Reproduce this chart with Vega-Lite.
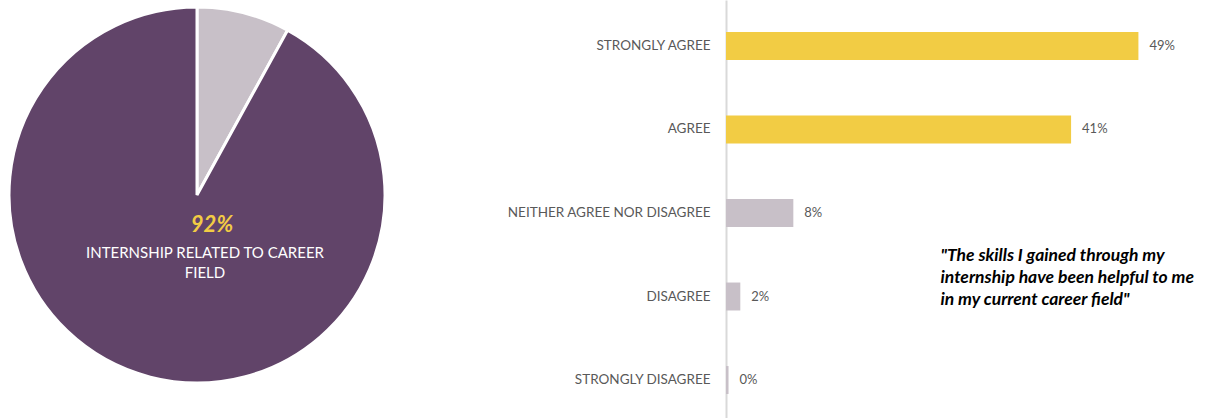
{
  "$schema": "https://vega.github.io/schema/vega-lite/v6.json",
  "autosize": "pad",
  "padding": 0,
  "background": "white",
  "spacing": 112,
  "config": {"view": {"stroke": null}, "font": "Lato"},
  "resolve": {"scale": {"color": "independent"}},
  "datasets": {
    "pie": [
      {"category": "Not related", "value": 0.08, "ord": 1},
      {"category": "Related", "value": 0.92, "ord": 2}
    ],
    "pieLabel": [{"pct": "92%", "label": ["INTERNSHIP RELATED TO CAREER", "FIELD"]}],
    "bars": [
      {"response": "STRONGLY AGREE", "share": 0.49, "group": "agree"},
      {"response": "AGREE", "share": 0.41, "group": "agree"},
      {"response": "NEITHER AGREE NOR DISAGREE", "share": 0.08, "group": "other"},
      {"response": "DISAGREE", "share": 0.017, "group": "other"},
      {"response": "STRONGLY DISAGREE", "share": 0.003, "group": "other"}
    ],
    "quote": [{"text": ["\"The skills I gained through my", "internship have been helpful to me", "in my current career field\""]}]
  },
  "hconcat": [
    {
      "width": 394,
      "height": 390,
      "layer": [
        {
          "data": {"name": "pie"},
          "mark": {"type": "arc", "outerRadius": 188, "stroke": "white", "strokeWidth": 3},
          "encoding": {
            "theta": {"field": "value", "type": "quantitative", "stack": true},
            "order": {"field": "ord", "type": "quantitative"},
            "color": {"field": "category", "type": "nominal", "legend": null,
              "scale": {"domain": ["Not related", "Related"], "range": ["#C8C0C8", "#614469"]}}
          }
        },
        {
          "data": {"name": "pieLabel"},
          "mark": {"type": "text", "dx": 15, "dy": 30, "fontSize": 22, "fontWeight": "bold", "fontStyle": "italic", "color": "#F2CC44", "align": "center", "baseline": "middle"},
          "encoding": {"text": {"field": "pct", "type": "nominal"}}
        },
        {
          "data": {"name": "pieLabel"},
          "mark": {"type": "text", "dx": 8, "dy": 58, "fontSize": 15, "color": "white", "align": "center", "baseline": "middle", "lineHeight": 20},
          "encoding": {"text": {"field": "label", "type": "nominal"}}
        }
      ]
    },
    {
      "width": 505,
      "height": 426,
      "layer": [
        {
          "data": {"name": "bars"},
          "mark": {"type": "bar"},
          "encoding": {
            "y": {"field": "response", "type": "nominal", "sort": null,
              "scale": {"paddingInner": 0.665, "paddingOuter": 0.383},
              "axis": {"title": null, "ticks": false, "labelPadding": 16, "minExtent": 220, "maxExtent": 220,
                "labelFontSize": 13.5, "labelColor": "#595959", "labelFont": "Lato",
                "domainColor": "#D9D9D9", "domainWidth": 2, "labelLimit": 400}},
            "x": {"field": "share", "type": "quantitative", "scale": {"domain": [0, 0.6]}, "axis": null},
            "color": {"field": "group", "type": "nominal", "legend": null,
              "scale": {"domain": ["agree", "other"], "range": ["#F2CC44", "#C8C0C8"]}}
          }
        },
        {
          "data": {"name": "bars"},
          "mark": {"type": "text", "align": "left", "dx": 11, "fontSize": 13, "color": "#595959", "baseline": "middle"},
          "encoding": {
            "y": {"field": "response", "type": "nominal", "sort": null},
            "x": {"field": "share", "type": "quantitative"},
            "text": {"field": "share", "type": "quantitative", "format": ".0%"}
          }
        },
        {
          "data": {"name": "quote"},
          "mark": {"type": "text", "align": "left", "baseline": "middle", "dx": -38, "dy": 43, "fontSize": 17.5, "fontWeight": "bold", "fontStyle": "italic", "color": "#000000", "lineHeight": 22},
          "encoding": {"text": {"field": "text", "type": "nominal"}}
        }
      ]
    }
  ]
}
